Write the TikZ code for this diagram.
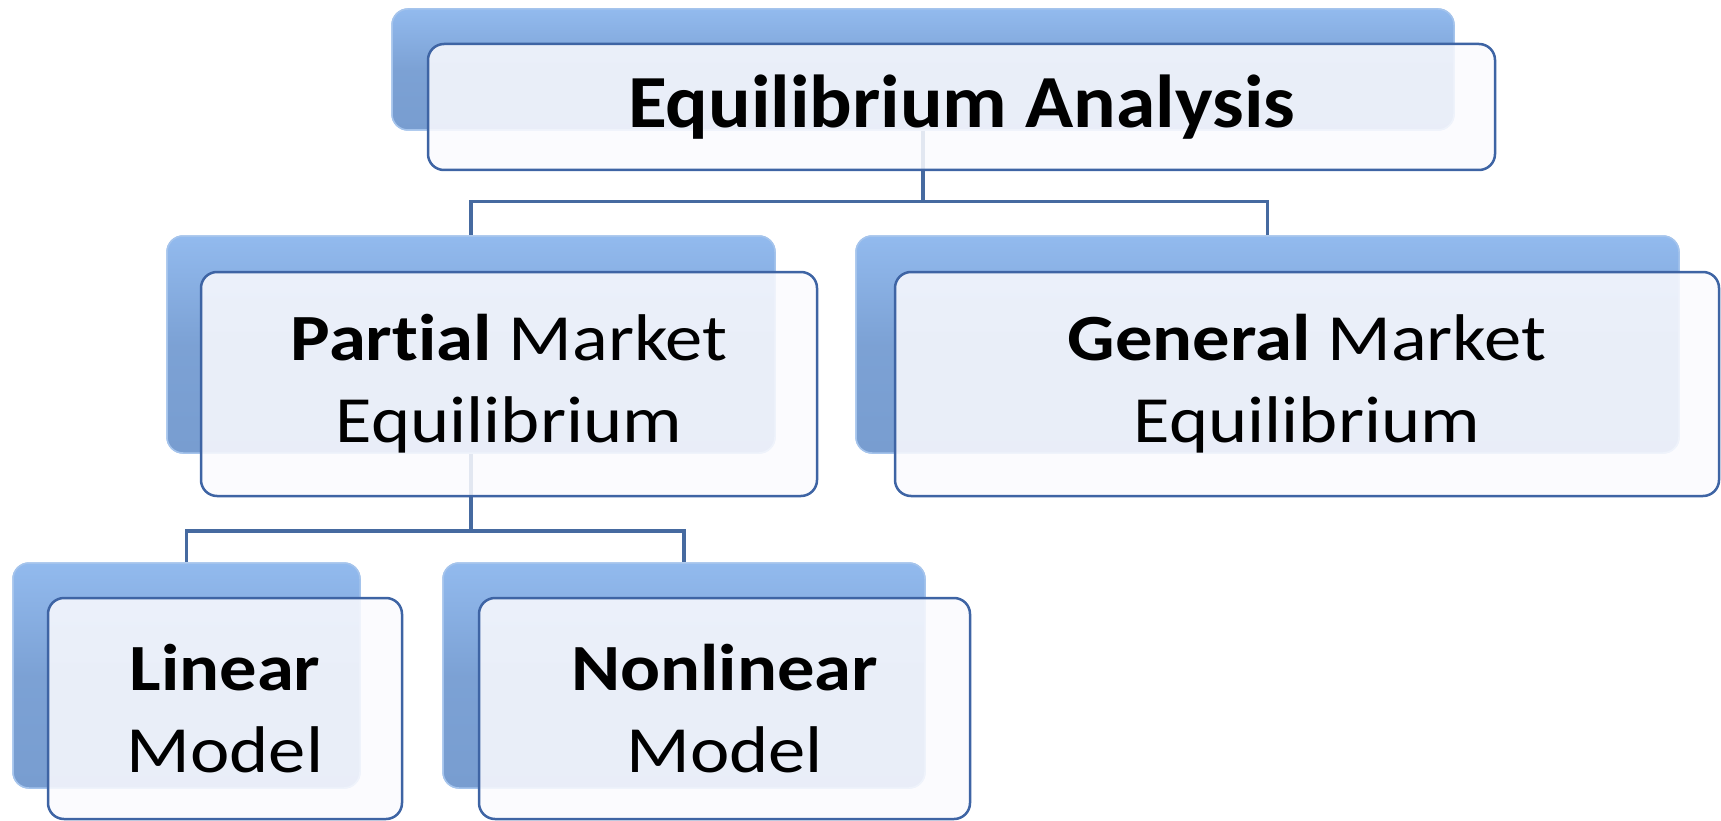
\documentclass[tikz,border=0pt]{standalone}
\usepackage{fontspec}
\setmainfont{Carlito}[Ligatures=NoCommon]
\newfontfamily\lowfont{Carlito}[FakeStretch=1.13,Ligatures=NoCommon]
\newfontfamily\topfont{Carlito}[FakeStretch=1.06,Ligatures=NoCommon]
\definecolor{backtop}{RGB}{146,186,238}
\definecolor{backbot}{RGB}{120,157,208}
\definecolor{backedge}{RGB}{165,196,236}
\definecolor{frontedge}{RGB}{62,100,164}
\definecolor{frontfill}{RGB}{250,250,254}
\definecolor{conncol}{RGB}{70,106,160}
\tikzset{
  backbox/.style={rectangle, rounded corners=16pt, inner sep=0pt, draw=backedge, line width=1.5pt,
    top color=backtop, bottom color=backbot, middle color=backbot!85!backtop},
  frontbox/.style={rectangle, rounded corners=16pt, inner sep=0pt, draw=frontedge, line width=2.5pt,
    fill=frontfill, fill opacity=0.87, text opacity=1, draw opacity=1, align=center, text=black,
    font=\lowfont\fontsize{66}{82}\selectfont},
  conn/.style={draw=conncol, line width=3.5pt}
}
\begin{document}
\begin{tikzpicture}[x=1pt,y=-1pt]
\useasboundingbox (0,0) rectangle (1721,821);
% back boxes (placed first to name them)
\node[backbox, minimum width=1062pt, minimum height=121pt] (tb) at (923,69.5) {};
\node[backbox, minimum width=608pt, minimum height=217pt] (pb) at (471,344.5) {};
\node[backbox, minimum width=823pt, minimum height=217pt] (gb) at (1267.5,344.5) {};
\node[backbox, minimum width=347pt, minimum height=225pt] (lb) at (186.5,675.5) {};
\node[backbox, minimum width=482pt, minimum height=225pt] (nb) at (684,675.5) {};
% connectors
\draw[conn] (tb.south) -- ++(0,71) coordinate (tj) -| (pb.north);
\draw[conn] (tj) -| (gb.north);
\draw[conn] (pb.south) -- ++(0,77) coordinate (pj) -| (lb.north);
\draw[conn] (pj) -| (nb.north);
% redraw back boxes over connectors
\node[backbox, minimum width=1062pt, minimum height=121pt] at (tb) {};
\node[backbox, minimum width=608pt, minimum height=217pt] at (pb) {};
\node[backbox, minimum width=823pt, minimum height=217pt] at (gb) {};
\node[backbox, minimum width=347pt, minimum height=225pt] at (lb) {};
\node[backbox, minimum width=482pt, minimum height=225pt] at (nb) {};
% front boxes
\node[frontbox, minimum width=1067pt, minimum height=126pt, font=\topfont\fontsize{75}{90}\selectfont\bfseries] (tf) at (961.5,107) {Equilibrium Analysis};
\node[frontbox, minimum width=616pt, minimum height=224pt] (pf) at (509,384) {\textbf{Partial} Market\\Equilibrium};
\node[frontbox, minimum width=824pt, minimum height=224pt] (gf) at (1307,384) {\textbf{General} Market\\Equilibrium};
\node[frontbox, minimum width=354pt, minimum height=221pt] (lf) at (225,708.5) {\textbf{Linear}\\Model};
\node[frontbox, minimum width=491pt, minimum height=221pt] (nf) at (724.5,708.5) {\textbf{Nonlinear}\\Model};
\end{tikzpicture}
\end{document}
